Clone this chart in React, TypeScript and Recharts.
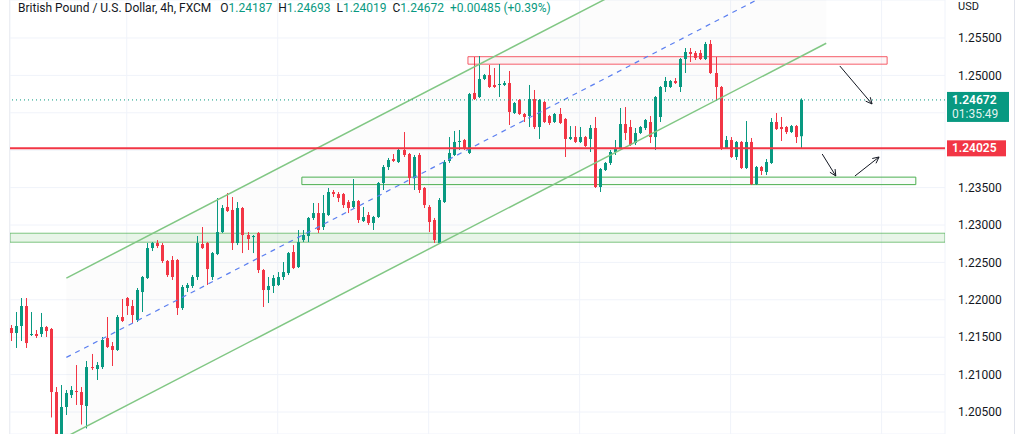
import React from 'react';
import { ComposedChart, Bar, XAxis, YAxis, CartesianGrid, ReferenceLine, ReferenceArea } from 'recharts';

// GBP/USD 4h candles
const opens = [
  1.21623, 1.21556, 1.21650, 1.21917, 1.21529, 1.21543, 1.21543, 1.21636, 1.21610, 1.20767,
  1.20206, 1.20567, 1.20727, 1.20781, 1.20767, 1.20580, 1.21101, 1.21075, 1.21101, 1.21489,
  1.21382, 1.21329, 1.21770, 1.22024, 1.21917, 1.21730, 1.22104, 1.22291, 1.22692, 1.22759,
  1.22732, 1.22519, 1.22532, 1.22532, 1.21890, 1.22158, 1.22185, 1.22305, 1.22746, 1.22759,
  1.22305, 1.22612, 1.22906, 1.23241, 1.23201, 1.22759, 1.23227, 1.22866, 1.22839, 1.22893,
  1.22398, 1.22131, 1.22185, 1.22198, 1.22305, 1.22358, 1.22639, 1.22438, 1.22799, 1.22853,
  1.23094, 1.23160, 1.22973, 1.23134, 1.23441, 1.23414, 1.23414, 1.23307, 1.23241, 1.23321,
  1.23053, 1.23134, 1.23027, 1.23107, 1.23561, 1.23775, 1.23882, 1.23842, 1.24003, 1.23949,
  1.23628, 1.23936, 1.23495, 1.23241, 1.23067, 1.22759, 1.23307, 1.23856, 1.23936, 1.24110,
  1.24136, 1.23963, 1.24765, 1.24711, 1.24952, 1.25005, 1.24872, 1.24872, 1.24872, 1.24898,
  1.24497, 1.24671, 1.24484, 1.24457, 1.24684, 1.24310, 1.24644, 1.24457, 1.24377, 1.24484,
  1.24417, 1.24150, 1.24176, 1.24110, 1.24176, 1.24150, 1.24297, 1.23508, 1.23735, 1.23829,
  1.23976, 1.24029, 1.24350, 1.24310, 1.24096, 1.24230, 1.24297, 1.24377, 1.24176, 1.24444,
  1.24845, 1.24845, 1.24925, 1.24845, 1.25219, 1.25313, 1.25299, 1.25299, 1.25219, 1.25420,
  1.25032, 1.24845, 1.24029, 1.24136, 1.23909, 1.24110, 1.23762, 1.24110, 1.23548, 1.23775,
  1.23709, 1.23829, 1.24377, 1.24310, 1.24310, 1.24243, 1.24323, 1.24187,
];
const highs = [
  1.21663, 1.21837, 1.22024, 1.22024, 1.21837, 1.21596, 1.21824, 1.21650, 1.21623, 1.20834,
  1.20861, 1.20794, 1.20847, 1.21128, 1.20834, 1.21182, 1.21276, 1.21168, 1.21503, 1.21770,
  1.21436, 1.21797, 1.22011, 1.22037, 1.21997, 1.22158, 1.22318, 1.22759, 1.22772, 1.22799,
  1.22759, 1.22532, 1.22585, 1.22545, 1.22198, 1.22225, 1.22331, 1.22853, 1.22973, 1.22772,
  1.22639, 1.23361, 1.23267, 1.23428, 1.23374, 1.23307, 1.23241, 1.22906, 1.22866, 1.22906,
  1.22411, 1.22305, 1.22331, 1.22371, 1.22505, 1.22639, 1.22732, 1.22933, 1.22933, 1.23107,
  1.23294, 1.23294, 1.23401, 1.23495, 1.23468, 1.23441, 1.23428, 1.23334, 1.23615, 1.23334,
  1.23241, 1.23174, 1.23121, 1.23575, 1.23802, 1.23896, 1.23949, 1.24029, 1.24243, 1.23963,
  1.23936, 1.23963, 1.23508, 1.23267, 1.23094, 1.23361, 1.23869, 1.24176, 1.24257, 1.24270,
  1.24150, 1.24765, 1.25246, 1.25259, 1.25019, 1.25139, 1.25099, 1.25152, 1.24925, 1.25059,
  1.24644, 1.24684, 1.24497, 1.24872, 1.24805, 1.24684, 1.24658, 1.24471, 1.24497, 1.24564,
  1.24430, 1.24323, 1.24323, 1.24310, 1.24190, 1.24337, 1.24444, 1.23762, 1.23842, 1.24003,
  1.24136, 1.24564, 1.24577, 1.24404, 1.24297, 1.24323, 1.24417, 1.24457, 1.24724, 1.24858,
  1.24979, 1.24938, 1.24965, 1.25233, 1.25366, 1.25366, 1.25326, 1.25340, 1.25447, 1.25473,
  1.25246, 1.24858, 1.24190, 1.24176, 1.24123, 1.24123, 1.24390, 1.24163, 1.23789, 1.23789,
  1.23882, 1.24430, 1.24497, 1.24444, 1.24323, 1.24337, 1.24337, 1.24693,
];
const lows = [
  1.21449, 1.21356, 1.21449, 1.21356, 1.21516, 1.21489, 1.21503, 1.21503, 1.20427, 1.20126,
  1.20126, 1.20460, 1.20687, 1.20594, 1.20333, 1.20280, 1.21061, 1.20928, 1.21075, 1.21356,
  1.21115, 1.21316, 1.21703, 1.21797, 1.21690, 1.21703, 1.21837, 1.22278, 1.22652, 1.22692,
  1.22492, 1.22305, 1.22265, 1.21797, 1.21864, 1.22104, 1.22158, 1.22265, 1.22679, 1.22198,
  1.22265, 1.22598, 1.22893, 1.23174, 1.22666, 1.22732, 1.22625, 1.22666, 1.22625, 1.22358,
  1.21904, 1.21957, 1.22091, 1.22185, 1.22265, 1.22331, 1.22411, 1.22425, 1.22772, 1.22772,
  1.23067, 1.22893, 1.22933, 1.23121, 1.23374, 1.23307, 1.23227, 1.23160, 1.23227, 1.23027,
  1.23040, 1.23000, 1.22933, 1.23094, 1.23468, 1.23735, 1.23842, 1.23829, 1.23909, 1.23535,
  1.23468, 1.23428, 1.23227, 1.22906, 1.22759, 1.22746, 1.23294, 1.23829, 1.23922, 1.24003,
  1.24003, 1.23949, 1.24671, 1.24698, 1.24938, 1.24832, 1.24832, 1.24711, 1.24858, 1.24337,
  1.24484, 1.24471, 1.24377, 1.24310, 1.24283, 1.24150, 1.24364, 1.24337, 1.24364, 1.24350,
  1.23909, 1.24136, 1.24096, 1.24096, 1.24043, 1.23976, 1.23495, 1.23441, 1.23722, 1.23802,
  1.23936, 1.24016, 1.24136, 1.24056, 1.24069, 1.24216, 1.24270, 1.24096, 1.24003, 1.24377,
  1.24778, 1.24832, 1.24885, 1.24778, 1.25032, 1.25179, 1.25206, 1.25206, 1.25206, 1.25019,
  1.24671, 1.24003, 1.24016, 1.23896, 1.23869, 1.23749, 1.23749, 1.23535, 1.23535, 1.23668,
  1.23668, 1.23816, 1.24270, 1.24123, 1.24216, 1.24230, 1.24096, 1.24019,
];
const closes = [
  1.21556, 1.21650, 1.21917, 1.21422, 1.21543, 1.21516, 1.21636, 1.21583, 1.20767, 1.20206,
  1.20567, 1.20754, 1.20794, 1.20767, 1.20594, 1.21101, 1.21088, 1.21128, 1.21463, 1.21369,
  1.21329, 1.21770, 1.21717, 1.21917, 1.21797, 1.22131, 1.22305, 1.22692, 1.22759, 1.22719,
  1.22519, 1.22331, 1.22305, 1.21890, 1.22171, 1.22198, 1.22305, 1.22759, 1.22692, 1.22411,
  1.22625, 1.22906, 1.23227, 1.23187, 1.22759, 1.23227, 1.22866, 1.22813, 1.22853, 1.22398,
  1.22131, 1.22185, 1.22291, 1.22305, 1.22371, 1.22625, 1.22425, 1.22772, 1.22866, 1.23094,
  1.23160, 1.22933, 1.23160, 1.23441, 1.23414, 1.23361, 1.23267, 1.23227, 1.23321, 1.23067,
  1.23107, 1.23027, 1.23107, 1.23561, 1.23775, 1.23869, 1.23856, 1.24003, 1.23936, 1.23628,
  1.23909, 1.23468, 1.23267, 1.23040, 1.22799, 1.23334, 1.23842, 1.23963, 1.24110, 1.24123,
  1.24029, 1.24751, 1.24684, 1.24952, 1.25005, 1.24845, 1.24845, 1.24885, 1.24898, 1.24511,
  1.24631, 1.24484, 1.24444, 1.24684, 1.24310, 1.24671, 1.24377, 1.24364, 1.24484, 1.24364,
  1.24150, 1.24176, 1.24110, 1.24176, 1.24056, 1.24297, 1.23508, 1.23749, 1.23829, 1.23976,
  1.24029, 1.24350, 1.24230, 1.24069, 1.24230, 1.24310, 1.24404, 1.24176, 1.24711, 1.24845,
  1.24925, 1.24925, 1.24898, 1.25219, 1.25313, 1.25286, 1.25233, 1.25219, 1.25420, 1.25032,
  1.24845, 1.24029, 1.24136, 1.23909, 1.24110, 1.23762, 1.24110, 1.23548, 1.23775, 1.23722,
  1.23842, 1.24377, 1.24283, 1.24283, 1.24243, 1.24323, 1.24176, 1.24672,
];

const priceTicks = [1.205, 1.21, 1.215, 1.22, 1.225, 1.23, 1.235, 1.24, 1.245, 1.25, 1.255];
const dayTicks = [23, 53, 83, 113, 143, 173];

const TITLE = 'British Pound / U.S. Dollar, 4h, FXCM';
const CHANGE = '+0.00485 (+0.39%)';
const COUNTDOWN = '01:35:49';
const KEY_LEVEL = 1.24025;

// drawings, in (candle index, price)
const channel = { from: 11, to: 162, upper: 1.2229, lower: 1.2017, slope: 0.0003483 };
const resistanceBox = { x1: 90.8, x2: 174.1, y1: 1.2515, y2: 1.2525 };
const supportBox = { x1: 57.8, x2: 179.8, y1: 1.2354, y2: 1.2364 };
const supportBand = { y1: 1.2277, y2: 1.2289 };
const arrows = [
  [[164.7, 1.25126], [171.1, 1.24618]],
  [[161.2, 1.23949], [163.9, 1.23655]],
  [[167.7, 1.23655], [172.5, 1.23909]],
];

const Y_MIN = 1.20206;
const Y_MAX = 1.26008;
const X_DOMAIN = [-0.2, 185.6];

const GREEN = '#089981';
const RED = '#f23645';
const TEXT = '#131722';
const FONT = 'Roboto, "Open Sans", sans-serif';

const candles = opens.map((open, i) => ({
  i,
  open,
  high: highs[i],
  low: lows[i],
  close: closes[i],
  range: [lows[i], highs[i]],
}));
const last = candles[candles.length - 1];

const Candle = (props: any) => {
  const { x, y, width, height, payload } = props;
  if (x == null || !payload) return null;
  const top = Math.min(y, y + height);
  const h = Math.abs(height);
  const { open, close, high, low } = payload;
  const color = close >= open ? GREEN : RED;
  const k = high - low > 0 ? h / (high - low) : 0;
  const bodyTop = top + (high - Math.max(open, close)) * k;
  const bodyH = Math.max(1, Math.abs(open - close) * k);
  const cx = Math.round(x + width / 2);
  return (
    <g>
      <line x1={cx + 0.5} x2={cx + 0.5} y1={top} y2={top + h} stroke={color} strokeWidth={1} />
      <rect x={cx - 1} y={bodyTop} width={3} height={bodyH} fill={color} />
    </g>
  );
};

const ChannelFill = (props: any) => {
  const { x, y, width, height } = props;
  const px = (i: number) => x + ((i - channel.from) / (channel.to - channel.from)) * width;
  const py = (p: number) => y + ((Y_MAX - p) / (Y_MAX - Y_MIN)) * height;
  const span = channel.to - channel.from;
  const pts = [
    [px(channel.from), py(channel.upper)],
    [px(channel.to), py(channel.upper + span * channel.slope)],
    [px(channel.to), py(channel.lower + span * channel.slope)],
    [px(channel.from), py(channel.lower)],
  ];
  return <polygon points={pts.map((p) => p.join(',')).join(' ')} fill="#787b86" fillOpacity={0.025} stroke="none" />;
};

const Arrow = (props: any) => {
  const { x1, y1, x2, y2 } = props;
  const a = Math.atan2(y2 - y1, x2 - x1);
  const s = 7;
  const h1 = [x2 - s * Math.cos(a - 0.45), y2 - s * Math.sin(a - 0.45)];
  const h2 = [x2 - s * Math.cos(a + 0.45), y2 - s * Math.sin(a + 0.45)];
  return (
    <g stroke={TEXT} strokeWidth={1} fill="none">
      <line x1={x1} y1={y1} x2={x2} y2={y2} />
      <polyline points={`${h1[0]},${h1[1]} ${x2},${y2} ${h2[0]},${h2[1]}`} />
    </g>
  );
};

const PriceTag = (props: any) => {
  const { viewBox, text, sub, color } = props;
  if (!viewBox) return null;
  const x = viewBox.x + viewBox.width + 2;
  const y = viewBox.y;
  const h = sub ? 30 : 16;
  const top = y - 8;
  return (
    <g>
      <rect x={x} y={top} width={sub ? 62 : 59} height={h} fill={color} />
      <text x={x + 5} y={top + 12} fill="#fff" fontSize={12} fontFamily={FONT} fontWeight={600}>
        {text}
      </text>
      {sub && (
        <text x={x + 5} y={top + 26} fill="#fff" fontSize={12} fontFamily={FONT} fillOpacity={0.9}>
          {sub}
        </text>
      )}
    </g>
  );
};

const tagLevels = [last.close, KEY_LEVEL];
const formatTick = (v: number) =>
  tagLevels.some((t) => Math.abs(t - v) < 0.002) ? '' : v.toFixed(5);

export default function App() {
  const span = channel.to - channel.from;
  const mid0 = (channel.upper + channel.lower) / 2;
  return (
    <div style={{ position: 'absolute', left: 0, top: 0, width: 1024, height: 434, background: '#fff', overflow: 'hidden' }}>
      <ComposedChart
        width={1024}
        height={434}
        data={candles}
        margin={{ top: 0, right: 9, bottom: 0, left: 10 }}
      >
        <CartesianGrid stroke="#f0f3fa" />
        <XAxis dataKey="i" type="number" domain={X_DOMAIN} allowDataOverflow ticks={dayTicks} hide />
        <YAxis
          orientation="right"
          domain={[Y_MIN, Y_MAX]}
          allowDataOverflow
          ticks={priceTicks}
          tickFormatter={formatTick}
          width={70}
          axisLine={false}
          tickLine={false}
          tickMargin={7}
          tick={{ fill: TEXT, fontSize: 12, fontFamily: FONT }}
        />
        <ReferenceArea
          x1={channel.from}
          x2={channel.to}
          y1={Y_MIN}
          y2={Y_MAX}
          ifOverflow="hidden"
          shape={<ChannelFill />}
        />
        <ReferenceArea
          y1={supportBand.y1}
          y2={supportBand.y2}
          fill="#4caf50"
          fillOpacity={0.13}
          stroke="#4caf50"
          strokeOpacity={0.7}
          ifOverflow="hidden"
        />
        <ReferenceArea
          x1={supportBox.x1}
          x2={supportBox.x2}
          y1={supportBox.y1}
          y2={supportBox.y2}
          fill="#4caf50"
          fillOpacity={0.03}
          stroke="#4caf50"
          strokeWidth={1}
        />
        <ReferenceArea
          x1={resistanceBox.x1}
          x2={resistanceBox.x2}
          y1={resistanceBox.y1}
          y2={resistanceBox.y2}
          fill={RED}
          fillOpacity={0.05}
          stroke={RED}
          strokeOpacity={0.8}
          strokeWidth={1}
        />
        <ReferenceLine
          segment={[
            { x: channel.from, y: channel.upper },
            { x: channel.to, y: channel.upper + span * channel.slope },
          ]}
          stroke="#81c784"
          strokeWidth={1.5}
          ifOverflow="hidden"
        />
        <ReferenceLine
          segment={[
            { x: channel.from, y: channel.lower },
            { x: channel.to, y: channel.lower + span * channel.slope },
          ]}
          stroke="#81c784"
          strokeWidth={1.5}
          ifOverflow="hidden"
        />
        <ReferenceLine
          segment={[
            { x: channel.from, y: mid0 },
            { x: channel.to, y: mid0 + span * channel.slope },
          ]}
          stroke="#5b7ff0"
          strokeWidth={1.2}
          strokeDasharray="5 5"
          ifOverflow="hidden"
        />
        <ReferenceLine
          y={KEY_LEVEL}
          stroke={RED}
          strokeWidth={2}
          label={<PriceTag text={KEY_LEVEL.toFixed(5)} color={RED} />}
        />
        <ReferenceLine
          y={last.close}
          stroke={GREEN}
          strokeWidth={1}
          strokeDasharray="1 3"
          label={<PriceTag text={last.close.toFixed(5)} sub={COUNTDOWN} color={GREEN} />}
        />
        {arrows.map((a, k) => (
          <ReferenceLine
            key={k}
            segment={[{ x: a[0][0], y: a[0][1] }, { x: a[1][0], y: a[1][1] }]}
            shape={<Arrow />}
          />
        ))}
        <Bar dataKey="range" barSize={3} shape={<Candle />} isAnimationActive={false} />
      </ComposedChart>

      <div style={{ position: 'absolute', left: 9, top: 0, width: 1, height: 434, background: '#eceef3' }} />
      <div style={{ position: 'absolute', left: 1014, top: 0, width: 1, height: 434, background: '#e0e3eb' }} />
      <div
        style={{
          position: 'absolute',
          left: 18,
          top: 1,
          fontFamily: FONT,
          fontSize: 12,
          lineHeight: '15px',
          color: TEXT,
          whiteSpace: 'nowrap',
        }}
      >
        {TITLE}
        <span style={{ marginLeft: 9 }}>O</span>
        <span style={{ color: GREEN }}>{last.open.toFixed(5)}</span>
        <span style={{ marginLeft: 6 }}>H</span>
        <span style={{ color: GREEN }}>{last.high.toFixed(5)}</span>
        <span style={{ marginLeft: 6 }}>L</span>
        <span style={{ color: GREEN }}>{last.low.toFixed(5)}</span>
        <span style={{ marginLeft: 6 }}>C</span>
        <span style={{ color: GREEN }}>{last.close.toFixed(5)}</span>
        <span style={{ marginLeft: 6, color: GREEN }}>{CHANGE}</span>
      </div>
      <div
        style={{
          position: 'absolute',
          left: 958,
          top: 0,
          fontFamily: FONT,
          fontSize: 11,
          lineHeight: '13px',
          color: TEXT,
        }}
      >
        USD
      </div>
    </div>
  );
}
